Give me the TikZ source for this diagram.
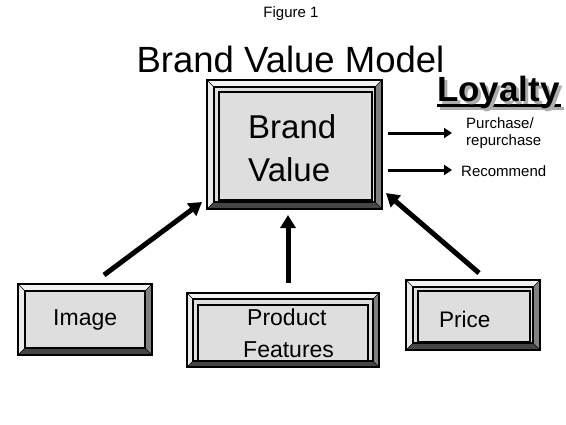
\documentclass[tikz,border=0pt]{standalone}
\usepackage{fontspec}
\setmainfont{Liberation Sans}
\usetikzlibrary{arrows.meta}
\definecolor{face}{gray}{0.87}
\definecolor{tophl}{gray}{0.95}
\definecolor{lefthl}{gray}{0.92}
\definecolor{rshade}{gray}{0.5}
\definecolor{bshade}{gray}{0.27}
\definecolor{shadowgray}{gray}{0.68}
\newcommand{\bevelbox}[5]{%
  \fill[face] (#1,#2) rectangle (#3,#4);
  \fill[tophl] (#1,#2) -- (#3,#2) -- (#3-#5,#2+#5) -- (#1+#5,#2+#5) -- cycle;
  \fill[lefthl] (#1,#2) -- (#1+#5,#2+#5) -- (#1+#5,#4-#5) -- (#1,#4) -- cycle;
  \fill[rshade] (#3,#2) -- (#3,#4) -- (#3-#5,#4-#5) -- (#3-#5,#2+#5) -- cycle;
  \fill[bshade] (#1,#4) -- (#3,#4) -- (#3-#5,#4-#5) -- (#1+#5,#4-#5) -- cycle;
  \draw[line width=0.6pt] (#1,#2) -- (#1+#5,#2+#5) (#3,#4) -- (#3-#5,#4-#5)
     (#3,#2) -- (#3-#5,#2+#5) (#1,#4) -- (#1+#5,#4-#5);
  \draw[line width=1.2pt] (#1+#5,#2+#5) rectangle (#3-#5,#4-#5);
  \draw[line width=1.2pt] (#1,#2) rectangle (#3,#4);
}
\newcommand{\innerline}[4]{\draw[line width=1.2pt] (#1,#2) rectangle (#3,#4);}
\tikzset{
  txt/.style={inner sep=0pt, anchor=base west},
  bigarrow/.style={line width=5pt, -{Triangle[length=13pt,width=15pt]}},
  smallarrow/.style={line width=3pt, -{Triangle[length=8pt,width=10pt]}}
}
\begin{document}
\begin{tikzpicture}[x=1pt,y=-1pt]
\useasboundingbox (0,0) rectangle (566,424);
\fill[white] (0,0) rectangle (566,424);

% titles
\node[inner sep=0pt, anchor=base] (fig) at (291,17) {\fontsize{15}{18}\selectfont Figure 1};
\node[inner sep=0pt, anchor=base] (title) at (290.5,72) {\fontsize{36.5}{40}\selectfont Brand Value Model};

% Loyalty with shadow and underline
\fill[shadowgray] (440,107) rectangle (564,110);
\fill[black] (437,104) rectangle (561,107);
\node[txt] (loyalty) at (437,101) {\fontsize{35}{40}\selectfont\bfseries
  \makebox[0pt][l]{\hspace{3pt}\raisebox{-3pt}{\textcolor{shadowgray}{Loyalty}}}Loyalty};

% Brand Value box
\bevelbox{207}{80}{382}{209}{7}
\innerline{219}{92}{372}{200}
\node[txt] (brand) at (248,138) {\fontsize{33}{40}\selectfont Brand};
\node[txt] (value) at (248,181) {\fontsize{33}{40}\selectfont Value};

% Image box
\bevelbox{18}{284}{152}{355}{7}
\node[txt] (image) at (53,325) {\fontsize{23}{26}\selectfont Image};

% Product Features box
\bevelbox{187}{293}{379}{367}{6}
\innerline{198}{305}{368}{361}
\node[txt] (product) at (247,325) {\fontsize{23}{26}\selectfont Product};
\node[txt] (features) at (243,357) {\fontsize{23}{26}\selectfont Features};

% Price box
\bevelbox{406}{280}{540}{350}{7}
\innerline{418}{291}{530}{342}
\node[txt] (price) at (439,327) {\fontsize{22.5}{26}\selectfont Price};

% right labels
\node[txt] (purch) at (466,128) {\fontsize{15}{17}\selectfont Purchase/};
\node[txt] (repurch) at (466,145) {\fontsize{15}{17}\selectfont repurchase};
\node[txt] (recomm) at (461,176) {\fontsize{15}{17}\selectfont Recommend};

% arrow end points
\coordinate (imgA) at (104,275);
\coordinate (imgB) at (202,202);
\coordinate (pfA) at (288,283);
\coordinate (pfB) at (288,215);
\coordinate (prA) at (479,273);
\coordinate (prB) at (386,193);
\coordinate (l1A) at (388,133);
\coordinate (l1B) at (452,133);
\coordinate (l2A) at (388,170);
\coordinate (l2B) at (452,170);

\draw[bigarrow] (imgA) -- (imgB);
\draw[bigarrow] (pfA) -- (pfB);
\draw[bigarrow] (prA) -- (prB);
\draw[smallarrow] (l1A) -- (l1B);
\draw[smallarrow] (l2A) -- (l2B);
\end{tikzpicture}
\end{document}
